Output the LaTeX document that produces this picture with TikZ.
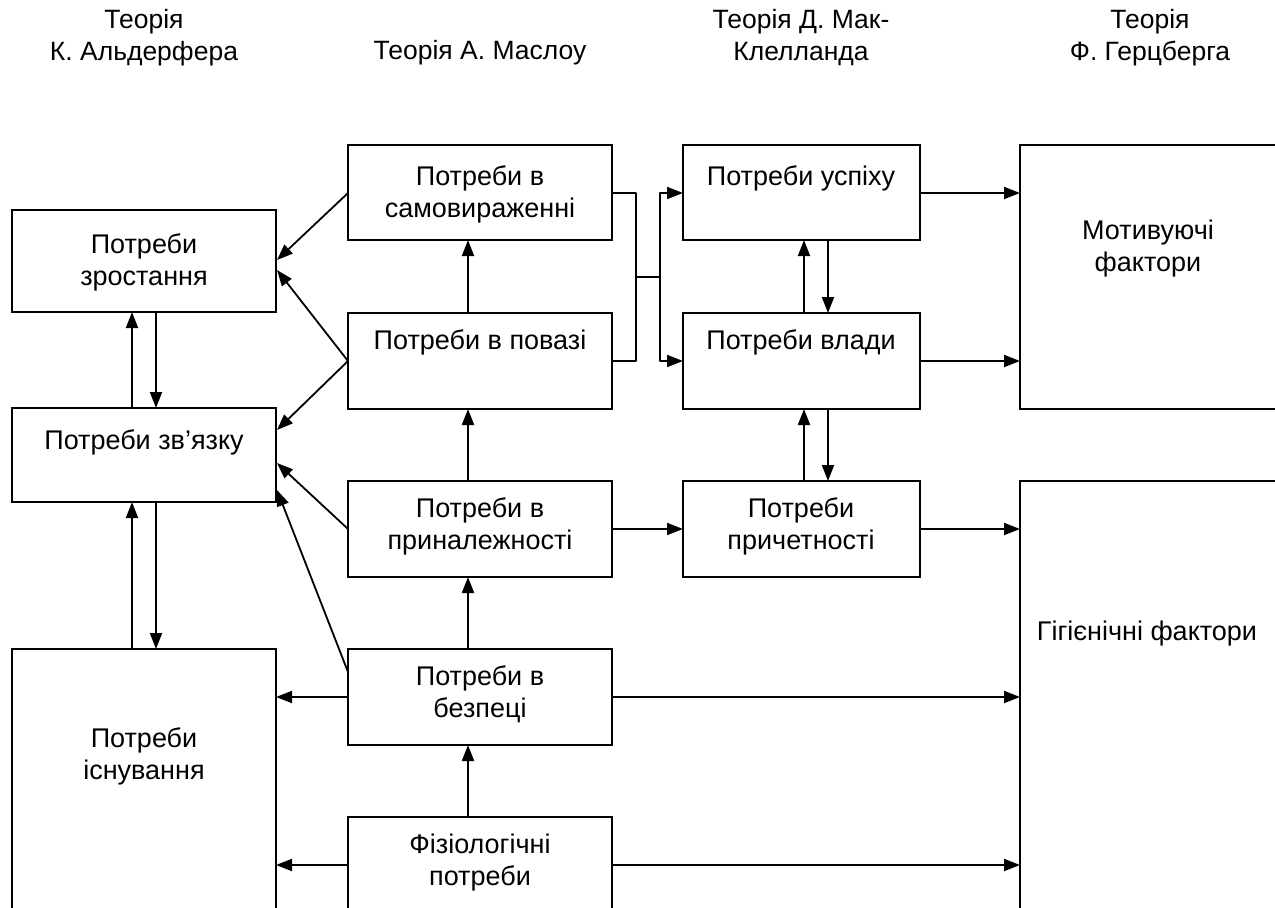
\documentclass[tikz,border=0pt]{standalone}
\usepackage{fontspec}
\setmainfont{Liberation Sans}
\usetikzlibrary{arrows.meta,calc}
\begin{document}
\begin{tikzpicture}[x=1pt,y=-1pt,
  box/.style={draw,line width=1.8pt,inner sep=0pt,outer sep=0pt,anchor=north west},
  txt/.style={align=center,inner sep=0pt,font=\fontsize{27}{32}\selectfont},
  head/.style={align=center,inner sep=0pt,font=\fontsize{26.5}{32}\selectfont},
  link/.style={line width=1.8pt,-{Triangle[length=16pt,width=12pt]}},
  plain/.style={line width=1.8pt}]
\useasboundingbox (0,0) rectangle (1275,908);
\clip (0,0) rectangle (1275,908);
\fill[white] (0,0) rectangle (1275,908);

% column headings
\node[head] (hA) at (144,38) {Теорія\\К. Альдерфера};
\node[head] (hM) at (480,53) {Теорія А. Маслоу};
\node[head] (hK) at (801,38) {Теорія Д. Мак-\\Клелланда};
\node[head] (hH) at (1150,38) {Теорія\\Ф. Герцберга};

% Alderfer
\node[box,minimum width=264pt,minimum height=102pt] (zr) at (12,210) {};
\node[box,minimum width=264pt,minimum height=94pt]  (zv) at (12,408) {};
\node[box,minimum width=264pt,minimum height=290pt] (is) at (12,649) {};
% Maslow
\node[box,minimum width=264pt,minimum height=95pt]  (sam) at (348,145) {};
\node[box,minimum width=264pt,minimum height=96pt]  (pov) at (348,313) {};
\node[box,minimum width=264pt,minimum height=96pt]  (pri) at (348,481) {};
\node[box,minimum width=264pt,minimum height=96pt]  (bez) at (348,649) {};
\node[box,minimum width=264pt,minimum height=120pt] (fiz) at (348,817) {};
% McClelland
\node[box,minimum width=237pt,minimum height=95pt]  (usp) at (683,145) {};
\node[box,minimum width=237pt,minimum height=96pt]  (vla) at (683,313) {};
\node[box,minimum width=237pt,minimum height=96pt]  (pry) at (683,481) {};
% Herzberg
\node[box,minimum width=264pt,minimum height=264pt] (mot) at (1020,145) {};
\node[box,minimum width=264pt,minimum height=460pt] (gig) at (1020,481) {};

% box texts
\node[txt] (t-zr)  at (144,262) {Потреби\\зростання};
\node[txt] (t-zv)  at (144,442) {Потреби зв’язку};
\node[txt] (t-is)  at (144,756) {Потреби\\існування};
\node[txt] (t-sam) at (480,194) {Потреби в\\самовираженні};
\node[txt] (t-pov) at (480,342) {Потреби в повазі};
\node[txt] (t-pri) at (480,526) {Потреби в\\приналежності};
\node[txt] (t-bez) at (480,694) {Потреби в\\безпеці};
\node[txt] (t-fiz) at (480,863) {Фізіологічні\\потреби};
\node[txt] (t-usp) at (801,178) {Потреби успіху};
\node[txt] (t-vla) at (801,342) {Потреби влади};
\node[txt] (t-pry) at (801,526) {Потреби\\причетності};
\node[txt] (t-mot) at (1148,249) {Мотивуючі\\фактори};
\node[txt] (t-gig) at (1147,634) {Гігієнічні фактори};

% Alderfer: links up and down the column
\draw[link] ($(zv.north west)+(120,0)$) -- ($(zr.south west)+(120,0)$);
\draw[link] ($(zr.south west)+(144,0)$) -- ($(zv.north west)+(144,0)$);
\draw[link] ($(is.north west)+(120,0)$) -- ($(zv.south west)+(120,0)$);
\draw[link] ($(zv.south west)+(144,0)$) -- ($(is.north west)+(144,0)$);

% Maslow: the ladder of needs
\draw[link] ($(pov.north west)+(120,0)$) -- ($(sam.south west)+(120,0)$);
\draw[link] ($(pri.north west)+(120,0)$) -- ($(pov.south west)+(120,0)$);
\draw[link] ($(bez.north west)+(120,0)$) -- ($(pri.south west)+(120,0)$);
\draw[link] ($(fiz.north west)+(120,0)$) -- ($(bez.south west)+(120,0)$);

% Maslow to Alderfer
\draw[link] ($(sam.north west)+(0,48)$) -- ($(zr.north east)+(1,50)$);
\draw[link] (pov.west) -- ($(zr.north east)+(1,60)$);
\draw[link] (pov.west) -- ($(zv.north east)+(1,22)$);
\draw[link] ($(pri.north west)+(0,48)$) -- ($(zv.north east)+(1,55)$);
\draw[link] ($(bez.north west)+(0,23)$) -- ($(zv.north east)+(1,82)$);
\draw[link] ($(bez.north west)+(0,48)$) -- ($(is.north east)+(0,48)$);
\draw[link] ($(fiz.north west)+(0,48)$) -- ($(is.north east)+(0,216)$);

% Maslow to Herzberg
\draw[link] ($(bez.north east)+(0,48)$) -- ($(gig.north west)+(0,216)$);
\draw[link] ($(fiz.north east)+(0,48)$) -- ($(gig.north west)+(0,384)$);

% Maslow to McClelland: the bracket
\coordinate (b1) at ($(sam.north east)+(24,48)$);
\coordinate (b2) at ($(pov.north east)+(24,48)$);
\coordinate (bm) at ($(b1)!0.5!(b2)$);
\coordinate (bj) at ($(bm)+(24,0)$);
\draw[plain,line join=round] ($(sam.north east)+(0,48)$) -- (b1) -- (b2) -- ($(pov.north east)+(0,48)$);
\draw[plain] (bm) -- (bj);
\draw[link,line join=round] (bj) |- ($(usp.north west)+(0,48)$);
\draw[link,line join=round] (bj) |- ($(vla.north west)+(0,48)$);
\draw[link] ($(pri.north east)+(0,48)$) -- ($(pry.north west)+(0,48)$);

% McClelland: links within the column
\draw[link] ($(vla.north west)+(121,0)$) -- ($(usp.south west)+(121,0)$);
\draw[link] ($(usp.south west)+(145,0)$) -- ($(vla.north west)+(145,0)$);
\draw[link] ($(pry.north west)+(121,0)$) -- ($(vla.south west)+(121,0)$);
\draw[link] ($(vla.south west)+(145,0)$) -- ($(pry.north west)+(145,0)$);

% McClelland to Herzberg
\draw[link] ($(usp.north east)+(0,48)$) -- ($(mot.north west)+(0,48)$);
\draw[link] ($(vla.north east)+(0,48)$) -- ($(mot.north west)+(0,216)$);
\draw[link] ($(pry.north east)+(0,48)$) -- ($(gig.north west)+(0,48)$);
\end{tikzpicture}
\end{document}
